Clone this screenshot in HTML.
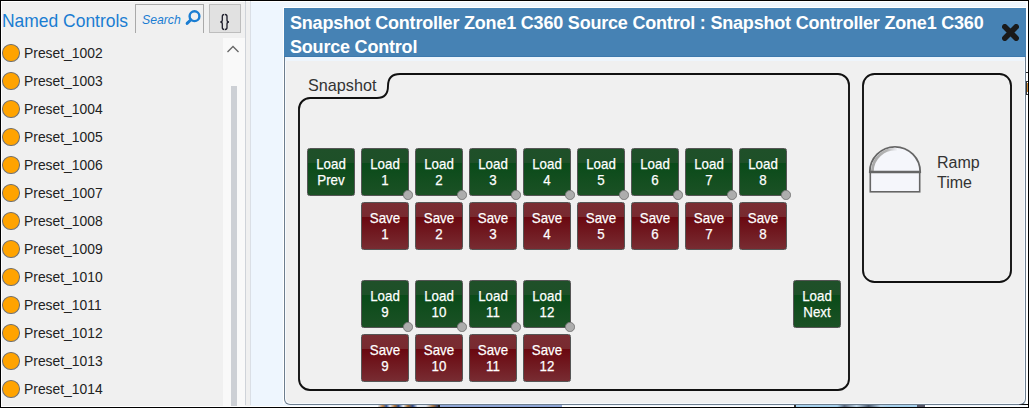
<!DOCTYPE html>
<html><head><meta charset="utf-8">
<style>
*{margin:0;padding:0;box-sizing:border-box}
html,body{width:1029px;height:408px;overflow:hidden;background:#f0f0f0}
body{position:relative;font-family:"Liberation Sans",sans-serif}
.a{position:absolute}
#frameT{left:0;top:0;width:1029px;height:1px;background:#000}
#frameB{left:0;top:407px;width:1029px;height:1px;background:#000}
#frameL{left:0;top:0;width:1px;height:408px;background:#000}
#frameR{left:1028px;top:0;width:1px;height:408px;background:#000}
#inner{left:1px;top:1px;width:1027px;height:406px;border:1px solid #fff;border-right-width:2px}
#title{left:1.6px;top:9px;font-size:18.5px;color:#1a7dd2;white-space:nowrap;line-height:24px;transform:scaleX(0.943);transform-origin:0 0}
#search{left:135px;top:4px;width:69px;height:29px;border:1px solid #a9a9a9;border-bottom:none}
#search span{position:absolute;left:6px;top:7px;font-style:italic;font-size:13.6px;line-height:16px;color:#1a7dd2;transform:scaleX(0.9);transform-origin:0 0;white-space:nowrap}
#curly{left:209px;top:4px;width:32px;height:29px;background:#e1e1e1;border:1px solid #bdbdbd}
#curly span{position:absolute;left:4px;top:5px;font-size:18px;color:#222;font-family:"Liberation Mono",monospace;line-height:20px}
.it{position:absolute;left:2px;height:18px;width:200px}
.it i{position:absolute;left:0.2px;top:0.2px;width:17.6px;height:17.4px;border-radius:50%;background:#ffa300;border:1.5px solid #707070}
.it span{position:absolute;left:22px;top:-1px;font-size:15px;color:#222;line-height:20px;white-space:nowrap;transform:scaleX(0.925);transform-origin:0 0}
#track{left:223px;top:38px;width:22px;height:368px;background:#f9f9f9}
#thumb{left:231px;top:86px;width:6px;height:320px;background:#cdd0d5}
#sep1{left:245px;top:1px;width:1px;height:404px;background:#cfd3d9}
#sep2{left:250px;top:1px;width:1px;height:404px;background:#dadfe6}
#right{left:251px;top:2px;width:776px;height:404px;background:#eef6fe}
#dlg{left:283px;top:7px;width:743px;height:397px;border-top:1px solid #fff;border-left:1px solid #fff}
#dlgbody{left:284px;top:57px;width:742px;height:348px;background:#f0f0f0;border:1px solid #6d7d8d;border-top:none;border-radius:0 0 6px 6px;box-shadow:inset 1px -1px 0 #f6faff,inset -1px 0 0 #f6faff}
#band{left:285px;top:57px;width:740px;height:4px;background:#eef5fc}
#hdr{left:284px;top:8px;width:742px;height:49px;background:#4682b4;border-bottom:1px solid #3d79ad}
#hdr span{position:absolute;left:6px;top:3px;width:720px;font-weight:bold;font-size:18px;letter-spacing:-0.2px;color:#fff;line-height:24px}
#close{left:1002px;top:24px;width:17px;height:17px}
.b{position:absolute;width:48px;height:48px;border:1px solid #555;border-radius:2.5px;color:#fff;font-size:13.5px;line-height:16px;text-align:center}
.b span{position:absolute;left:0;right:0;top:6.5px;font-size:14.8px;transform:scaleX(0.9);transform-origin:50% 0;-webkit-text-stroke:0.25px #fff}
.g{background:linear-gradient(#1f5029 0%,#1e5028 30%,#0a4b19 31%,#1b5125 100%)}
.r{background:linear-gradient(#7a2d33 0%,#782a30 30%,#6a0810 31%,#782c32 100%)}
.dot{position:absolute;width:9.5px;height:9.5px;border-radius:50%;background:#adadad;border:1px solid #7a7a7a}
#grpsvg{left:0;top:0}
#snaplbl{left:308px;top:75px;font-size:16.2px;color:#333;line-height:20px}
#ramplbl{left:937px;top:153px;font-size:16px;color:#333;line-height:20px}
</style></head><body>
<div class="a" id="right"></div>
<div class="a" id="inner"></div>
<div class="a" id="title">Named Controls</div>
<div class="a" id="search"><span>Search</span>
<svg style="position:absolute;left:49px;top:5px" width="18" height="18" viewBox="0 0 18 18"><circle cx="9.5" cy="6.2" r="4.9" fill="none" stroke="#1a7dd2" stroke-width="2.4"/><line x1="5.9" y1="9.8" x2="2.1" y2="13.4" stroke="#1a7dd2" stroke-width="2.9" stroke-linecap="round"/></svg>
</div>
<div class="a" id="curly"></div><svg class="a" style="left:0;top:0" width="240" height="40"><path d="M224.3 14.5 Q222.3 14.5 222.3 16.5 V20 Q222.3 22 220.3 22 Q222.3 22 222.3 24 V27.5 Q222.3 29.5 224.3 29.5 M225 14.5 Q227 14.5 227 16.5 V20 Q227 22 229 22 Q227 22 227 24 V27.5 Q227 29.5 225 29.5" fill="none" stroke="#1c1c2a" stroke-width="1.3"/></svg>
<div class="it" style="top:44px"><i></i><span>Preset_1002</span></div><div class="it" style="top:72px"><i></i><span>Preset_1003</span></div><div class="it" style="top:100px"><i></i><span>Preset_1004</span></div><div class="it" style="top:128px"><i></i><span>Preset_1005</span></div><div class="it" style="top:156px"><i></i><span>Preset_1006</span></div><div class="it" style="top:184px"><i></i><span>Preset_1007</span></div><div class="it" style="top:212px"><i></i><span>Preset_1008</span></div><div class="it" style="top:240px"><i></i><span>Preset_1009</span></div><div class="it" style="top:268px"><i></i><span>Preset_1010</span></div><div class="it" style="top:296px"><i></i><span>Preset_1011</span></div><div class="it" style="top:324px"><i></i><span>Preset_1012</span></div><div class="it" style="top:352px"><i></i><span>Preset_1013</span></div><div class="it" style="top:380px"><i></i><span>Preset_1014</span></div>
<div class="a" id="track"></div>
<svg class="a" style="left:226px;top:43.5px" width="14" height="10" viewBox="0 0 14 10"><polyline points="1.5,8 7,2.5 12.5,8" fill="none" stroke="#666" stroke-width="1.3"/></svg>
<div class="a" id="thumb"></div>
<div class="a" id="sep1"></div>
<div class="a" id="sep2"></div>
<div class="a" id="dlg"></div>
<div class="a" id="dlgbody"></div>
<div class="a" id="band"></div>
<div class="a" id="hdr"><span>Snapshot Controller Zone1 C360 Source Control : Snapshot Controller Zone1 C360 Source Control</span></div>
<svg class="a" id="close" viewBox="0 0 17 17"><path d="M2.8 2.8L14.2 14.2M14.2 2.8L2.8 14.2" stroke="#1a1a1a" stroke-width="5.5" stroke-linecap="round"/></svg>
<svg class="a" id="grpsvg" width="1029" height="408">
<path d="M299 109 A11 11 0 0 1 310 98 H377 C385 98 388 93 388 86 C388 78 392 74 400 74 H838 A11 11 0 0 1 849 85 V379 A11 11 0 0 1 838 390 H310 A11 11 0 0 1 299 379 Z" fill="none" stroke="#111" stroke-width="1.9"/>
<rect x="863" y="74" width="148" height="208" rx="11.5" ry="11.5" fill="none" stroke="#111" stroke-width="1.9"/>
<path d="M869.8 172 A25.2 25.2 0 0 1 920.2 172 Z" fill="#f5f6fb" stroke="#666" stroke-width="1.8"/><defs><linearGradient id="ag" gradientUnits="userSpaceOnUse" x1="872" y1="0" x2="897" y2="0"><stop offset="0" stop-color="#a8a8a8"/><stop offset="0.6" stop-color="#b4b4b4"/><stop offset="1" stop-color="#f0f1f6"/></linearGradient></defs><path d="M872.3 171.5 A22.7 22.7 0 0 1 897 149.3" fill="none" stroke="url(#ag)" stroke-width="2.8"/>
<rect x="870.3" y="172" width="49.4" height="19.8" fill="#f5f6fb" stroke="#666" stroke-width="1.6"/><line x1="869.5" y1="172" x2="920.5" y2="172" stroke="#666" stroke-width="2.4"/>
</svg>
<div class="a" id="snaplbl">Snapshot</div>
<div class="a" id="ramplbl">Ramp<br>Time</div>
<div class="b g" style="left:307px;top:148px"><span>Load<br>Prev</span></div><div class="b g" style="left:361px;top:148px"><span>Load<br>1</span></div><div class="dot" style="left:403px;top:190px"></div><div class="b r" style="left:361px;top:202px"><span>Save<br>1</span></div><div class="b g" style="left:415px;top:148px"><span>Load<br>2</span></div><div class="dot" style="left:457px;top:190px"></div><div class="b r" style="left:415px;top:202px"><span>Save<br>2</span></div><div class="b g" style="left:469px;top:148px"><span>Load<br>3</span></div><div class="dot" style="left:511px;top:190px"></div><div class="b r" style="left:469px;top:202px"><span>Save<br>3</span></div><div class="b g" style="left:523px;top:148px"><span>Load<br>4</span></div><div class="dot" style="left:565px;top:190px"></div><div class="b r" style="left:523px;top:202px"><span>Save<br>4</span></div><div class="b g" style="left:577px;top:148px"><span>Load<br>5</span></div><div class="dot" style="left:619px;top:190px"></div><div class="b r" style="left:577px;top:202px"><span>Save<br>5</span></div><div class="b g" style="left:631px;top:148px"><span>Load<br>6</span></div><div class="dot" style="left:673px;top:190px"></div><div class="b r" style="left:631px;top:202px"><span>Save<br>6</span></div><div class="b g" style="left:685px;top:148px"><span>Load<br>7</span></div><div class="dot" style="left:727px;top:190px"></div><div class="b r" style="left:685px;top:202px"><span>Save<br>7</span></div><div class="b g" style="left:739px;top:148px"><span>Load<br>8</span></div><div class="dot" style="left:781px;top:190px"></div><div class="b r" style="left:739px;top:202px"><span>Save<br>8</span></div><div class="b g" style="left:361px;top:280px"><span>Load<br>9</span></div><div class="dot" style="left:403px;top:322px"></div><div class="b r" style="left:361px;top:334px"><span>Save<br>9</span></div><div class="b g" style="left:415px;top:280px"><span>Load<br>10</span></div><div class="dot" style="left:457px;top:322px"></div><div class="b r" style="left:415px;top:334px"><span>Save<br>10</span></div><div class="b g" style="left:469px;top:280px"><span>Load<br>11</span></div><div class="dot" style="left:511px;top:322px"></div><div class="b r" style="left:469px;top:334px"><span>Save<br>11</span></div><div class="b g" style="left:523px;top:280px"><span>Load<br>12</span></div><div class="dot" style="left:565px;top:322px"></div><div class="b r" style="left:523px;top:334px"><span>Save<br>12</span></div><div class="b g" style="left:793px;top:280px"><span>Load<br>Next</span></div>
<div class="a" style="left:378px;top:405px;width:60px;height:2px;background:linear-gradient(90deg,#dfe6f0 0,#c08040 8%,#3a5a9a 14%,#e0e8f4 20%,#b07030 28%,#2a4a8a 34%,#e8eef6 42%,#a06a30 50%,#304c8c 58%,#e6ecf4 66%,#dfe6f0 80%,#a07040 92%,#2a3a6a 100%)"></div>
<div class="a" style="left:438px;top:405px;width:2px;height:2px;background:#222"></div>
<div class="a" style="left:440px;top:405px;width:122px;height:2px;background:#8fa6d6"></div>
<div class="a" style="left:794px;top:405px;width:2px;height:2px;background:#333"></div>
<div class="a" style="left:796px;top:405px;width:121px;height:2px;background:linear-gradient(90deg,#a8d2ee 0,#a8d2ee 34%,#5a6a80 40%,#c0d8ea 50%,#4a5a70 60%,#b8d4ea 70%,#a8d2ee 78%,#a8d2ee 100%)"></div>
<div class="a" style="left:917px;top:405px;width:8px;height:2px;background:#556"></div>
<div class="a" style="left:1026px;top:72px;width:2px;height:1px;background:#222"></div>
<div class="a" style="left:1026px;top:81px;width:2px;height:14px;border:1px solid #333;border-right:none"></div>
<div class="a" style="left:1027px;top:83px;width:1px;height:9px;background:#d08a30"></div>
<div class="a" style="left:1019px;top:404px;width:9px;height:1px;background:linear-gradient(90deg,#556,#111 40%,#000)"></div>
<div class="a" id="frameT"></div><div class="a" id="frameB"></div><div class="a" id="frameL"></div><div class="a" id="frameR"></div>
</body></html>
